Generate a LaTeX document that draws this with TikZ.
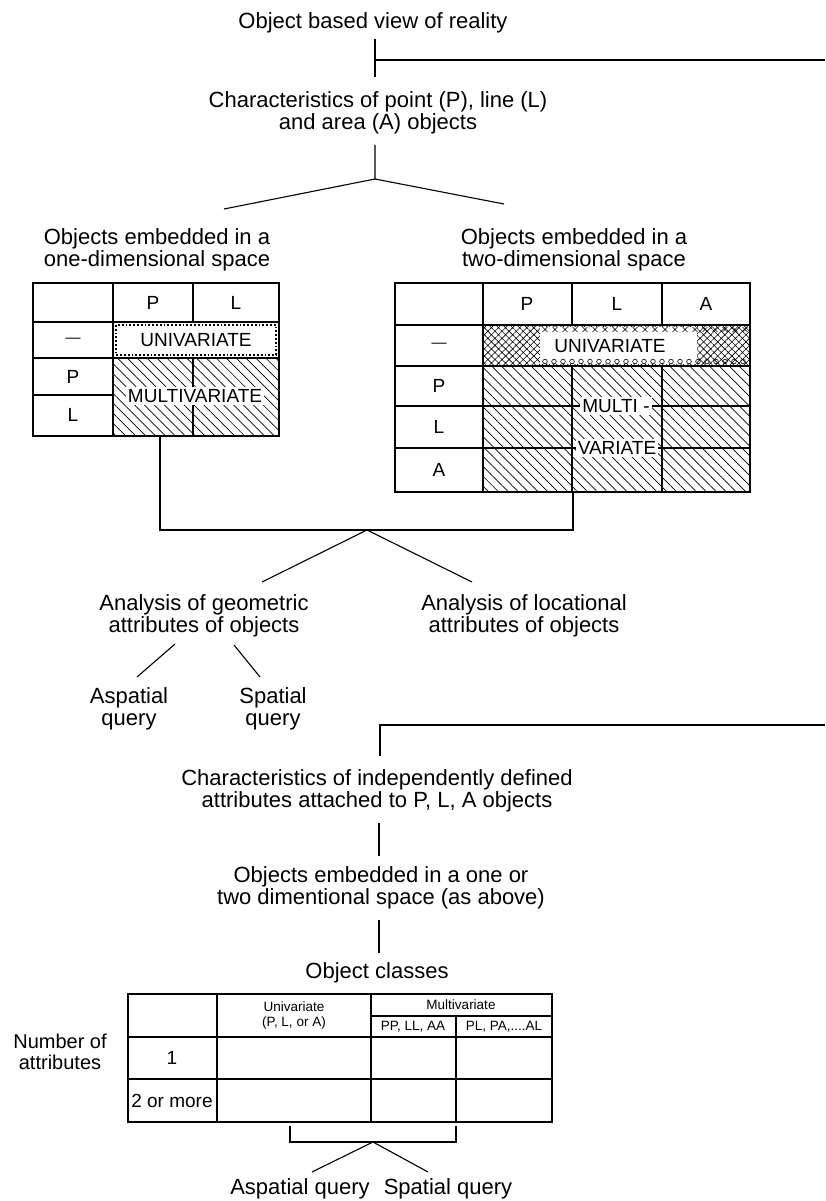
\documentclass[tikz,border=0pt]{standalone}
\usepackage{fontspec}
\setmainfont{Liberation Sans}
\usetikzlibrary{patterns.meta}
\begin{document}
\begin{tikzpicture}[x=1pt,y=-1pt,
  lbl/.style={font=\fontsize{22}{22}\selectfont, align=center, inner sep=0pt},
  cell/.style={font=\fontsize{19}{19}\selectfont, inner sep=0pt},
  tiny/.style={font=\fontsize{13.5}{15}\selectfont, inner sep=0pt, align=center},
  conn/.style={line width=1.1pt},
  grid/.style={line width=1.2pt},
  hatch/.style={pattern={Lines[angle=-45,distance=7pt,line width=0.7pt]}},
  xhatch/.style={pattern={Hatch[angle=45,distance=5pt,line width=0.6pt]}},
  whitelbl/.style={cell, fill=white, inner xsep=2pt, inner ysep=2pt},
]
\useasboundingbox (0,0) rectangle (825,1201);

% ---------- top of the tree ----------
\node[lbl] (title) at (373,23) {Object based view of reality};
\coordinate (t1) at (375,39);
\coordinate (t2) at (375,77);
\coordinate (tj) at (375,60);
\coordinate (tr) at (825,60);
\draw[conn] (t1) -- (t2);
\draw[conn] (tj) -- (tr);

\node[lbl] (chars) at (378,113) {Characteristics of point (P), line (L)\\and area (A) objects};
\coordinate (f1) at (375,145);
\coordinate (f2) at (375,179);
\coordinate (fl) at (224,209);
\coordinate (fr) at (504,204);
\draw[conn] (f1) -- (f2) -- (fl);
\draw[conn] (f2) -- (fr);

\node[lbl] (oned) at (157,250) {Objects embedded in a\\one-dimensional space};
\node[lbl] (twod) at (574,250) {Objects embedded in a\\two-dimensional space};

% ---------- one-dimensional table ----------
\fill[hatch] (113,358) rectangle (279,436);
\draw[grid] (33,283) rectangle (279,436);
\draw[grid] (113,283) -- (113,436);
\draw[grid] (193,283) -- (193,322);
\draw[grid] (33,322) -- (279,322);
\draw[grid] (33,358) -- (279,358);
\draw[grid] (33,395) -- (113,395);
\draw[grid] (193,358) -- (193,436);
\draw[dotted, line width=1.8pt] (116,325) rectangle (276,355);
\node[cell] (oP) at (153,303) {P};
\node[cell] (oL) at (236,303) {L};
\node[cell] (oR0) at (73,340) {\fontsize{15}{15}\selectfont —};
\node[cell] (oRP) at (73,377) {P};
\node[cell] (oRL) at (73,415) {L};
\node[cell] (ouni) at (196,340) {UNIVARIATE};
\node[whitelbl] (omulti) at (195,396) {MULTIVARIATE};

% ---------- two-dimensional table ----------
\fill[xhatch] (483,325) rectangle (750,366);
\fill[white] (540,327) rectangle (697,364);
\foreach \x in {545,555,...,745} {
  \draw[line width=0.6pt] (\x-2.5,327) -- (\x+2.5,332) (\x-2.5,332) -- (\x+2.5,327);
}
\foreach \x in {545,554,...,745} {
  \draw[line width=0.6pt] (\x,361.5) circle (2.3);
}
\fill[hatch] (483,366) rectangle (750,492);
\draw[grid] (395,283) rectangle (750,492);
\draw[grid] (483,283) -- (483,492);
\draw[grid] (572,283) -- (572,325);
\draw[grid] (662,283) -- (662,325);
\draw[grid] (572,366) -- (572,492);
\draw[grid] (662,366) -- (662,492);
\draw[grid] (395,325) -- (750,325);
\draw[grid] (395,366) -- (750,366);
\draw[grid] (395,406) -- (750,406);
\draw[grid] (395,448) -- (750,448);
\node[cell] (tP) at (527,304) {P};
\node[cell] (tL) at (617,304) {L};
\node[cell] (tA) at (706,304) {A};
\node[cell] (tR0) at (439,345) {\fontsize{15}{15}\selectfont —};
\node[cell] (tRP) at (439,386) {P};
\node[cell] (tRL) at (439,427) {L};
\node[cell] (tRA) at (439,470) {A};
\node[cell] (tuni) at (610,346) {UNIVARIATE};
\node[whitelbl] (tmulti) at (616,406) {MULTI -};
\node[whitelbl] (tvar) at (617,448) {VARIATE};

% ---------- bracket joining both tables ----------
\coordinate (b1) at (160,436);
\coordinate (b2) at (160,530);
\coordinate (b3) at (573,530);
\coordinate (b4) at (573,492);
\coordinate (bapex) at (367,530);
\coordinate (bl) at (262,582);
\coordinate (br) at (472,582);
\draw[conn] (b1) -- (b2) -- (b3) -- (b4);
\draw[conn] (bl) -- (bapex) -- (br);

\node[lbl] (geom) at (204,616) {Analysis of geometric\\attributes of objects};
\node[lbl] (loc) at (524,616) {Analysis of locational\\attributes of objects};
\coordinate (g1a) at (175,644);
\coordinate (g1b) at (137,677);
\coordinate (g2a) at (234,645);
\coordinate (g2b) at (260,677);
\draw[conn] (g1a) -- (g1b);
\draw[conn] (g2a) -- (g2b);
\node[lbl] (asp1) at (129,709) {Aspatial\\query};
\node[lbl] (sp1) at (273,709) {Spatial\\query};

% ---------- attribute branch ----------
\coordinate (h1) at (380,725);
\coordinate (h2) at (825,725);
\coordinate (h3) at (380,756);
\draw[conn] (h2) -- (h1) -- (h3);
\node[lbl] (indep) at (377,791) {Characteristics of independently defined\\attributes attached to P, L, A objects};
\coordinate (v1a) at (379,823);
\coordinate (v1b) at (379,856);
\draw[conn] (v1a) -- (v1b);
\node[lbl] (either) at (381,888) {Objects embedded in a one or\\two dimentional space (as above)};
\coordinate (v2a) at (379,920);
\coordinate (v2b) at (379,953);
\draw[conn] (v2a) -- (v2b);
\node[lbl] (classes) at (377,973) {Object classes};

% ---------- object classes table ----------
\draw[grid] (128,994) rectangle (552,1122);
\draw[grid] (217,994) -- (217,1122);
\draw[grid] (371,994) -- (371,1122);
\draw[grid] (456,1016) -- (456,1122);
\draw[grid] (371,1016) -- (552,1016);
\draw[grid] (128,1037) -- (552,1037);
\draw[grid] (128,1079) -- (552,1079);
\node[tiny] (cuni) at (294,1015) {Univariate\\(P, L, or A)};
\node[tiny] (cmulti) at (461,1005) {Multivariate};
\node[tiny] (cpp) at (413,1027) {PP, LL, AA};
\node[tiny] (cpl) at (504,1027) {PL, PA,....AL};
\node[cell] (c1) at (172,1058) {1};
\node[cell] (c2) at (172,1101) {2 or more};
\node[lbl, font=\fontsize{20}{21}\selectfont] (nattr) at (60,1052) {Number of\\attributes};

\coordinate (q1) at (290,1126);
\coordinate (q2) at (290,1142);
\coordinate (q3) at (456,1142);
\coordinate (q4) at (456,1126);
\coordinate (qapex) at (373,1142);
\coordinate (ql) at (312,1172);
\coordinate (qr) at (428,1172);
\draw[conn] (q1) -- (q2) -- (q3) -- (q4);
\draw[conn] (ql) -- (qapex) -- (qr);
\node[lbl] (asp2) at (300,1189) {Aspatial query};
\node[lbl] (sp2) at (448,1189) {Spatial query};
\end{tikzpicture}
\end{document}
